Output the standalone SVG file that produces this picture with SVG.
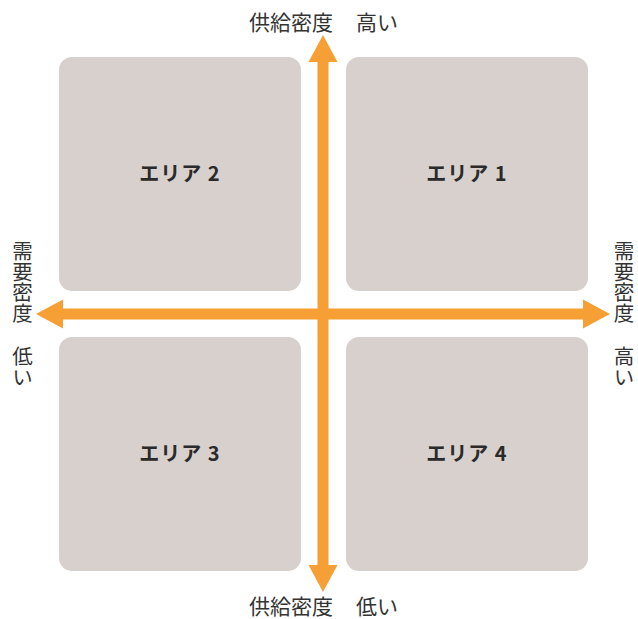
<svg xmlns="http://www.w3.org/2000/svg" width="638" height="619" viewBox="0 0 638 619">
  <defs>
    <style>
      .area { fill: #d7d0cd; }
      .area-label { font-family: "Noto Sans CJK JP", "Noto Sans", sans-serif; font-size: 20px; font-weight: bold; fill: #2a2a2a; text-anchor: middle; letter-spacing: 1px; }
      .axis-label { font-family: "Noto Sans CJK JP", "Noto Sans", sans-serif; font-size: 21px; fill: #333333; }
      .axis-label-v { font-family: "Noto Sans CJK JP", "Noto Sans", sans-serif; font-size: 20.5px; fill: #333333; writing-mode: vertical-rl; }
      .axis { fill: #f69f35; }
    </style>
  </defs>

  <rect width="638" height="619" fill="#ffffff"/>

  <g id="area2">
    <rect class="area" x="59" y="57" width="242" height="234" rx="13"/>
    <text class="area-label" x="180" y="181">エリア 2</text>
  </g>
  <g id="area1">
    <rect class="area" x="346" y="57" width="242" height="234" rx="13"/>
    <text class="area-label" x="467" y="181">エリア 1</text>
  </g>
  <g id="area3">
    <rect class="area" x="59" y="337" width="242" height="234" rx="13"/>
    <text class="area-label" x="180" y="461">エリア 3</text>
  </g>
  <g id="area4">
    <rect class="area" x="346" y="337" width="242" height="234" rx="13"/>
    <text class="area-label" x="467" y="461">エリア 4</text>
  </g>

  <g id="connectors">
    <!-- vertical axis: supply density -->
    <rect class="axis" x="317.5" y="58" width="11" height="510"/>
    <polygon class="axis" points="323,35 337.5,62 308.5,62"/>
    <polygon class="axis" points="323,592 337.5,565 308.5,565"/>
    <!-- horizontal axis: demand density -->
    <rect class="axis" x="59" y="308.5" width="528" height="11"/>
    <polygon class="axis" points="36,314 63,299.5 63,328.5"/>
    <polygon class="axis" points="610,314 583,299.5 583,328.5"/>
  </g>

  <g id="axis-labels">
    <text class="axis-label" x="249" y="30">供給密度</text>
    <text class="axis-label" x="356" y="30">高い</text>
    <text class="axis-label" x="249" y="614">供給密度</text>
    <text class="axis-label" x="356" y="614">低い</text>
    <text class="axis-label-v" x="22.5" y="241">需要密度</text>
    <text class="axis-label-v" x="22.5" y="346">低い</text>
    <text class="axis-label-v" x="624" y="241">需要密度</text>
    <text class="axis-label-v" x="624" y="346">高い</text>
  </g>
</svg>
